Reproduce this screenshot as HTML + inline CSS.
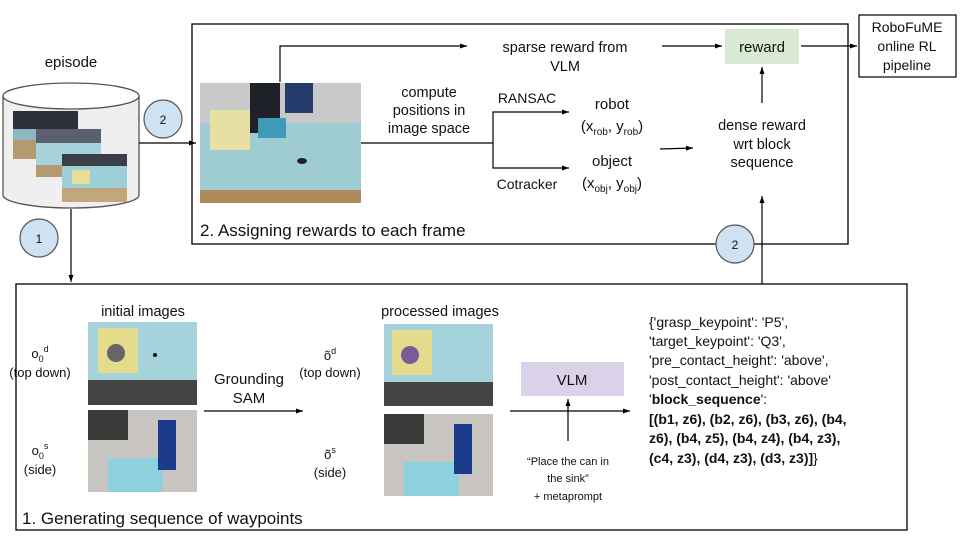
<!DOCTYPE html>
<html><head><meta charset="utf-8"><style>
html,body{margin:0;padding:0;background:#fff;}
svg{display:block;font-family:"Liberation Sans",Arial,sans-serif;}
text{fill:#111;}
</style></head><body>
<svg width="960" height="540" viewBox="0 0 960 540" xmlns="http://www.w3.org/2000/svg">
<defs>
<marker id="a" markerWidth="8" markerHeight="8" refX="7" refY="4" orient="auto" markerUnits="userSpaceOnUse"><path d="M0,1.5 L7,4 L0,6.5 z" fill="#000"/></marker>
</defs>
<!-- boxes -->
<rect x="192" y="24" width="656" height="220" fill="none" stroke="#000" stroke-width="1.3"/>
<rect x="16" y="284" width="891" height="246" fill="none" stroke="#000" stroke-width="1.3"/>
<!-- cylinder -->
<path d="M3,96 L3,195 A68,13 0 0 0 139,195 L139,96" fill="#efefef" stroke="#555" stroke-width="1.3"/>
<ellipse cx="71" cy="96" rx="68" ry="13" fill="#fff" stroke="#555" stroke-width="1.3"/>
<text x="71" y="67" font-size="15" text-anchor="middle">episode</text>
<g>
<rect x="13" y="111" width="65" height="48" fill="#8fb7c2"/><rect x="13" y="111" width="65" height="18" fill="#2a2f3a"/><rect x="13" y="140" width="65" height="19" fill="#b49a70"/>
<rect x="36" y="129" width="65" height="48" fill="#a9d3dc"/><rect x="36" y="129" width="65" height="14" fill="#5b6070"/><rect x="36" y="165" width="65" height="12" fill="#b49a70"/>
<rect x="62" y="154" width="65" height="48" fill="#9ccfd8"/><rect x="62" y="154" width="65" height="12" fill="#3a3e46"/><rect x="62" y="188" width="65" height="14" fill="#c1a77b"/><rect x="72" y="170" width="18" height="14" fill="#e6df9a"/>
</g>
<!-- circles -->
<line x1="139" y1="143" x2="196" y2="143" stroke="#000" stroke-width="1.2" marker-end="url(#a)"/>
<circle cx="163" cy="119" r="19" fill="#cfe2f3" stroke="#555" stroke-width="1.2"/><text x="163" y="124" font-size="12" text-anchor="middle">2</text>
<line x1="71" y1="209" x2="71" y2="282" stroke="#000" stroke-width="1.2" marker-end="url(#a)"/>
<circle cx="39" cy="238" r="19" fill="#cfe2f3" stroke="#555" stroke-width="1.2"/><text x="39" y="243" font-size="12" text-anchor="middle">1</text>
<!-- top image -->
<rect x="200" y="83" width="161" height="120" fill="#9fcbd3"/>
<rect x="200" y="83" width="161" height="40" fill="#c9c9c9"/>
<rect x="250" y="83" width="30" height="50" fill="#1e2127"/>
<rect x="285" y="83" width="28" height="30" fill="#233a6b"/>
<rect x="210" y="110" width="40" height="40" fill="#e6e0a2"/>
<rect x="258" y="118" width="28" height="20" fill="#3f99b8"/>
<rect x="200" y="190" width="161" height="13" fill="#b08a5a"/>
<ellipse cx="302" cy="161" rx="5" ry="3" fill="#222"/>
<!-- top connectors -->
<polyline points="280,82 280,46 467,46" fill="none" stroke="#000" stroke-width="1.2" marker-end="url(#a)"/>
<text x="565" y="52" font-size="14.5" text-anchor="middle">sparse reward from</text>
<text x="565" y="71" font-size="14.5" text-anchor="middle">VLM</text>
<line x1="662" y1="46" x2="722" y2="46" stroke="#000" stroke-width="1.2" marker-end="url(#a)"/>
<rect x="725" y="29" width="74" height="35" fill="#d9ead3"/>
<text x="762" y="52" font-size="15" text-anchor="middle">reward</text>
<line x1="801" y1="46" x2="857" y2="46" stroke="#000" stroke-width="1.2" marker-end="url(#a)"/>
<rect x="859" y="15" width="97" height="62" fill="#fff" stroke="#000" stroke-width="1.2"/>
<text x="907" y="32" font-size="14" text-anchor="middle">RoboFuME</text>
<text x="907" y="51" font-size="14" text-anchor="middle">online RL</text>
<text x="907" y="70" font-size="14" text-anchor="middle">pipeline</text>
<text x="429" y="97" font-size="14.5" text-anchor="middle">compute</text>
<text x="429" y="115" font-size="14.5" text-anchor="middle">positions in</text>
<text x="429" y="133" font-size="14.5" text-anchor="middle">image space</text>
<line x1="361" y1="143" x2="493" y2="143" stroke="#000" stroke-width="1.2"/>
<polyline points="493,143 493,112 569,112" fill="none" stroke="#000" stroke-width="1.2" marker-end="url(#a)"/>
<polyline points="493,143 493,168 569,168" fill="none" stroke="#000" stroke-width="1.2" marker-end="url(#a)"/>
<text x="527" y="103" font-size="14" text-anchor="middle">RANSAC</text>
<text x="527" y="189" font-size="14" text-anchor="middle">Cotracker</text>
<text x="612" y="109" font-size="15" text-anchor="middle">robot</text>
<text x="612" y="131" font-size="15" text-anchor="middle">(x<tspan font-size="10" dy="4">rob</tspan><tspan dy="-4">, y</tspan><tspan font-size="10" dy="4">rob</tspan><tspan dy="-4">)</tspan></text>
<text x="612" y="166" font-size="15" text-anchor="middle">object</text>
<text x="612" y="188" font-size="15" text-anchor="middle">(x<tspan font-size="10" dy="4">obj</tspan><tspan dy="-4">, y</tspan><tspan font-size="10" dy="4">obj</tspan><tspan dy="-4">)</tspan></text>
<line x1="660" y1="149" x2="693" y2="148" stroke="#000" stroke-width="1.2" marker-end="url(#a)"/>
<text x="762" y="130" font-size="14.5" text-anchor="middle">dense reward</text>
<text x="762" y="149" font-size="14.5" text-anchor="middle">wrt block</text>
<text x="762" y="167" font-size="14.5" text-anchor="middle">sequence</text>
<line x1="762" y1="103" x2="762" y2="67" stroke="#000" stroke-width="1.2" marker-end="url(#a)"/>
<line x1="762" y1="284" x2="762" y2="196" stroke="#000" stroke-width="1.2" marker-end="url(#a)"/>
<circle cx="735" cy="244" r="19" fill="#cfe2f3" stroke="#555" stroke-width="1.2"/><text x="735" y="249" font-size="12" text-anchor="middle">2</text>
<text x="200" y="236" font-size="17">2. Assigning rewards to each frame</text>
<!-- bottom -->
<text x="143" y="316" font-size="14.5" text-anchor="middle">initial images</text>
<rect x="88" y="322" width="109" height="83" fill="#a6d2dc"/><rect x="98" y="328" width="40" height="45" fill="#e4dc8c"/><circle cx="116" cy="353" r="9" fill="#666"/><rect x="88" y="380" width="109" height="25" fill="#444"/><circle cx="155" cy="355" r="2" fill="#111"/>
<rect x="88" y="410" width="109" height="82" fill="#c8c4c0"/><rect x="88" y="410" width="40" height="30" fill="#3a3a3a"/><rect x="108" y="458" width="55" height="34" fill="#8fd0df"/><rect x="158" y="420" width="18" height="50" fill="#1c3a8a"/>
<text x="40" y="358" font-size="13" text-anchor="middle">o<tspan font-size="9" dy="4">0</tspan><tspan font-size="9" dy="-10">d</tspan></text>
<text x="40" y="377" font-size="13" text-anchor="middle">(top down)</text>
<text x="40" y="455" font-size="13" text-anchor="middle">o<tspan font-size="9" dy="4">0</tspan><tspan font-size="9" dy="-10">s</tspan></text>
<text x="40" y="474" font-size="13" text-anchor="middle">(side)</text>
<text x="249" y="384" font-size="15" text-anchor="middle">Grounding</text>
<text x="249" y="403" font-size="15" text-anchor="middle">SAM</text>
<line x1="204" y1="411" x2="303" y2="411" stroke="#000" stroke-width="1.2" marker-end="url(#a)"/>
<text x="440" y="316" font-size="14.5" text-anchor="middle">processed images</text>
<rect x="384" y="324" width="109" height="82" fill="#a6d2dc"/><rect x="392" y="330" width="40" height="45" fill="#e4dc8c"/><circle cx="410" cy="355" r="9" fill="#7a5a9a"/><rect x="384" y="382" width="109" height="24" fill="#444"/>
<rect x="384" y="414" width="109" height="82" fill="#c8c4c0"/><rect x="384" y="414" width="40" height="30" fill="#3a3a3a"/><rect x="404" y="462" width="55" height="34" fill="#8fd0df"/><rect x="454" y="424" width="18" height="50" fill="#1c3a8a"/>
<text x="330" y="360" font-size="13" text-anchor="middle">õ<tspan font-size="9" dy="-6">d</tspan></text>
<text x="330" y="377" font-size="13" text-anchor="middle">(top down)</text>
<text x="330" y="459" font-size="13" text-anchor="middle">õ<tspan font-size="9" dy="-6">s</tspan></text>
<text x="330" y="477" font-size="13" text-anchor="middle">(side)</text>
<line x1="510" y1="411" x2="630" y2="411" stroke="#000" stroke-width="1.2" marker-end="url(#a)"/>
<rect x="521" y="362" width="103" height="34" fill="#d9d2e9"/>
<text x="572" y="385" font-size="15" text-anchor="middle">VLM</text>
<line x1="568" y1="441" x2="568" y2="399" stroke="#000" stroke-width="1.2" marker-end="url(#a)"/>
<text x="568" y="465" font-size="11" text-anchor="middle">“Place the can in</text>
<text x="568" y="482" font-size="11" text-anchor="middle">the sink”</text>
<text x="568" y="500" font-size="11" text-anchor="middle">+ metaprompt</text>
<g font-size="14">
<text x="649" y="327">{'grasp_keypoint': 'P5',</text>
<text x="649" y="346">'target_keypoint': 'Q3',</text>
<text x="649" y="365">'pre_contact_height': 'above',</text>
<text x="649" y="385">'post_contact_height': 'above'</text>
<text x="649" y="404">'<tspan font-weight="bold">block_sequence</tspan>':</text>
<text x="649" y="424" font-weight="bold">[(b1, z6), (b2, z6), (b3, z6), (b4,</text>
<text x="649" y="443" font-weight="bold">z6), (b4, z5), (b4, z4), (b4, z3),</text>
<text x="649" y="463" font-weight="bold">(c4, z3), (d4, z3), (d3, z3)]<tspan font-weight="normal">}</tspan></text>
</g>
<text x="22" y="524" font-size="17">1. Generating sequence of waypoints</text>
</svg>
</body></html>
